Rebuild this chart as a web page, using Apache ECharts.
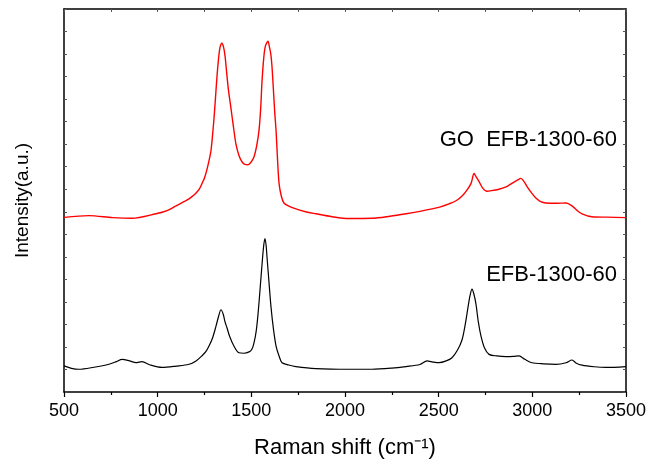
<!DOCTYPE html>
<html>
<head>
<meta charset="utf-8">
<script src="https://cdn.jsdelivr.net/npm/echarts@6/dist/echarts.min.js"></script>
<style>
html,body{margin:0;padding:0;background:#fff;}
#chart{width:649px;height:464px;}
</style>
</head>
<body>
<div id="chart"></div>
<script>
// Raman shift (cm-1) and intensity (a.u.)
const goShift = [500, 633, 760, 863, 991, 1050, 1098, 1140, 1167, 1190, 1205, 1222, 1237, 1250, 1263, 1275, 1285, 1293, 1301, 1309, 1317, 1325, 1333, 1343, 1352, 1360, 1368, 1378, 1391, 1404, 1418, 1434, 1450, 1466, 1482, 1498, 1514, 1528, 1541, 1550, 1557, 1566, 1575, 1589, 1597, 1604, 1610, 1618, 1625, 1632, 1640, 1648, 1660, 1674, 1700, 1738, 1790, 1845, 1931, 2021, 2144, 2240, 2326, 2400, 2464, 2510, 2555, 2595, 2625, 2650, 2673, 2689, 2700, 2715, 2735, 2758, 2790, 2822, 2860, 2891, 2920, 2939, 2955, 2971, 2995, 3019, 3045, 3073, 3130, 3180, 3212, 3240, 3265, 3318, 3400, 3500];
const goIntensity = [7.75, 7.83, 7.74, 7.71, 7.91, 8.05, 8.26, 8.45, 8.57, 8.72, 8.83, 9.0, 9.26, 9.5, 9.87, 10.3, 10.74, 11.4, 12.17, 13.1, 14.04, 14.8, 15.3, 15.48, 15.3, 14.9, 14.2, 13.4, 12.61, 11.8, 11.0, 10.5, 10.22, 10.1, 10.09, 10.2, 10.43, 10.9, 11.61, 12.6, 13.78, 14.8, 15.35, 15.57, 15.3, 15.0, 14.48, 13.4, 12.4, 11.61, 10.3, 9.26, 8.7, 8.39, 8.25, 8.13, 8.0, 7.91, 7.78, 7.70, 7.71, 7.8, 7.91, 8.02, 8.13, 8.22, 8.35, 8.5, 8.70, 8.95, 9.26, 9.70, 9.55, 9.35, 9.05, 8.91, 8.95, 9.0, 9.1, 9.26, 9.4, 9.48, 9.35, 9.13, 8.85, 8.61, 8.45, 8.39, 8.38, 8.39, 8.26, 8.05, 7.91, 7.78, 7.76, 7.74];

const efbShift = [500, 540, 580, 660, 740, 780, 810, 850, 884, 916, 960, 1023, 1100, 1167, 1205, 1237, 1258, 1274, 1293, 1311, 1325, 1338, 1350, 1360, 1370, 1385, 1407, 1434, 1460, 1488, 1503, 1514, 1526, 1536, 1547, 1557, 1566, 1573, 1579, 1584, 1595, 1605, 1618, 1632, 1648, 1664, 1700, 1738, 1845, 2021, 2144, 2250, 2326, 2400, 2438, 2470, 2502, 2540, 2571, 2600, 2625, 2642, 2657, 2668, 2678, 2688, 2699, 2712, 2726, 2745, 2769, 2810, 2859, 2900, 2929, 2960, 2998, 3060, 3126, 3180, 3212, 3235, 3265, 3330, 3393, 3500];
const efbIntensity = [1.16, 1.05, 1.01, 1.1, 1.23, 1.35, 1.45, 1.38, 1.30, 1.35, 1.2, 1.09, 1.15, 1.23, 1.38, 1.61, 1.8, 2.04, 2.4, 2.91, 3.35, 3.65, 3.45, 3.1, 2.85, 2.45, 2.04, 1.74, 1.72, 1.78, 1.9, 2.17, 2.7, 3.48, 4.6, 5.65, 6.5, 6.81, 6.5, 5.96, 4.8, 3.78, 2.8, 2.04, 1.6, 1.30, 1.2, 1.13, 1.04, 1.01, 1.01, 1.06, 1.13, 1.22, 1.38, 1.33, 1.30, 1.38, 1.52, 1.85, 2.32, 3.0, 3.78, 4.3, 4.57, 4.35, 3.91, 3.1, 2.48, 1.95, 1.67, 1.6, 1.57, 1.58, 1.60, 1.45, 1.30, 1.25, 1.23, 1.3, 1.42, 1.28, 1.19, 1.12, 1.09, 1.13];

const xTicks = [500, 1000, 1500, 2000, 2500, 3000, 3500];
const labels = ['GO  EFB-1300-60', 'EFB-1300-60'];

const FONT = '"Liberation Sans", Arial, sans-serif';
const chart = echarts.init(document.getElementById('chart'));

const axisLine = {show: true, onZero: false, lineStyle: {color: '#000', width: 1.5}};

chart.setOption({
  animation: false,
  backgroundColor: '#fff',
  grid: {left: 64, right: 22, top: 9, bottom: 64, containLabel: false},
  xAxis: [{
    type: 'value', position: 'bottom',
    min: xTicks[0], max: xTicks[xTicks.length - 1], interval: 500,
    axisLine: axisLine,
    axisTick: {show: true, inside: false, length: 5, lineStyle: {color: '#000', width: 1.2}},
    minorTick: {show: true, splitNumber: 2, length: 3, lineStyle: {color: '#000', width: 1.2}},
    axisLabel: {color: '#000', fontSize: 18, fontFamily: FONT, margin: 10, formatter: v => String(v)},
    splitLine: {show: false},
    name: 'Raman shift (cm⁻¹)', nameLocation: 'middle', nameGap: 45,
    nameTextStyle: {color: '#000', fontSize: 22, fontFamily: FONT}
  }, {
    type: 'value', position: 'top',
    min: xTicks[0], max: xTicks[xTicks.length - 1], interval: 250,
    axisLine: axisLine,
    axisTick: {show: true, inside: true, length: 3, lineStyle: {color: '#555', width: 1}},
    axisLabel: {show: false}, splitLine: {show: false}
  }],
  yAxis: [{
    type: 'value', position: 'left', min: 0, max: 17, interval: 1,
    axisLine: axisLine,
    axisTick: {show: true, inside: true, length: 3, lineStyle: {color: '#555', width: 1}},
    axisLabel: {show: false}, splitLine: {show: false},
    name: 'Intensity(a.u.)', nameLocation: 'middle', nameGap: 32, nameRotate: 90,
    nameTextStyle: {color: '#000', fontSize: 19, fontFamily: FONT}
  }, {
    type: 'value', position: 'right', min: 0, max: 17, interval: 1,
    axisLine: axisLine,
    axisTick: {show: true, inside: true, length: 3, lineStyle: {color: '#555', width: 1}},
    axisLabel: {show: false}, splitLine: {show: false}
  }],
  series: [{
    type: 'line', name: labels[0],
    data: goShift.map((x, i) => [x, goIntensity[i]]),
    showSymbol: false, smooth: 0.3,
    lineStyle: {color: '#ff0000', width: 1.4}, color: '#ff0000'
  }, {
    type: 'line', name: labels[1],
    data: efbShift.map((x, i) => [x, efbIntensity[i]]),
    showSymbol: false, smooth: 0.3,
    lineStyle: {color: '#000', width: 1.2}, color: '#000'
  }],
  graphic: [{
    type: 'text', right: 32, top: 129,
    style: {text: labels[0], fill: '#000', font: '22px ' + FONT}
  }, {
    type: 'text', right: 32, top: 264,
    style: {text: labels[1], fill: '#000', font: '22px ' + FONT}
  }]
});
</script>
</body>
</html>
